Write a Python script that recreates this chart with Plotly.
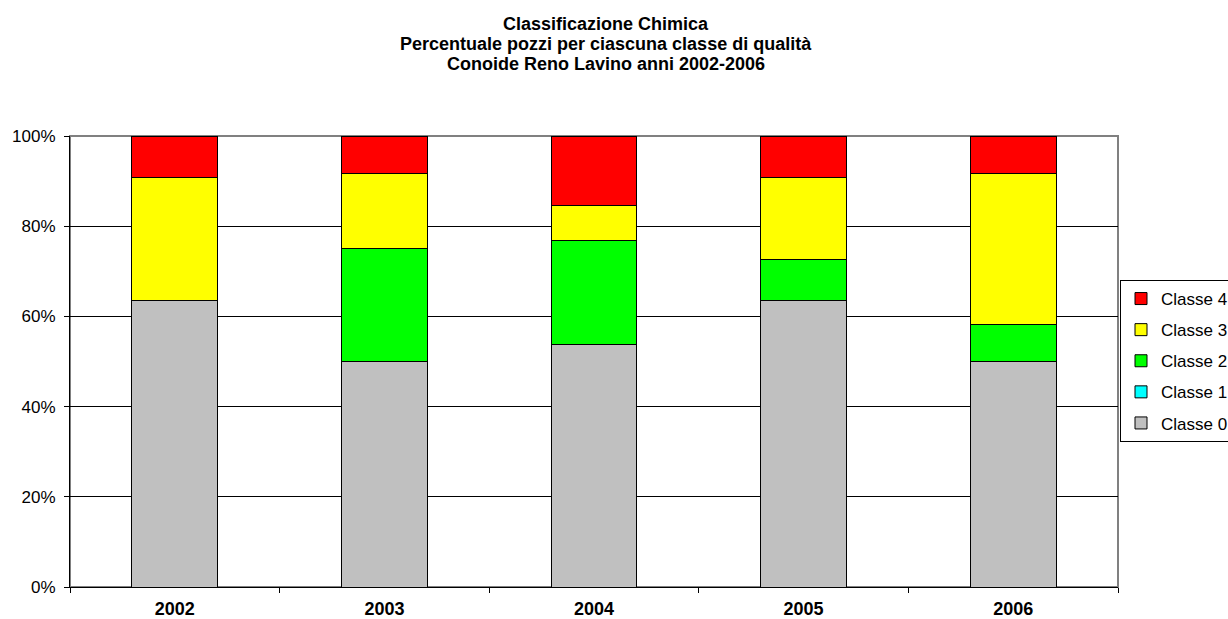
import plotly.graph_objects as go

years = ["2002", "2003", "2004", "2005", "2006"]

# Percentage of wells per quality class, for each year
classe_0 = [63.6, 50.0, 53.8, 63.6, 50.0]
classe_1 = [0.0, 0.0, 0.0, 0.0, 0.0]
classe_2 = [0.0, 25.0, 23.1, 9.1, 8.3]
classe_3 = [27.3, 16.7, 7.7, 18.2, 33.3]
classe_4 = [9.1, 8.3, 15.4, 9.1, 8.4]

series = [
    ("Classe 0", classe_0, "#C0C0C0"),
    ("Classe 1", classe_1, "#00FFFF"),
    ("Classe 2", classe_2, "#00FF00"),
    ("Classe 3", classe_3, "#FFFF00"),
    ("Classe 4", classe_4, "#FF0000"),
]

y_ticks = [0, 20, 40, 60, 80, 100]
y_tick_text = ["%d%%" % v for v in y_ticks]

title_lines = [
    "Classificazione Chimica",
    "Percentuale pozzi per ciascuna classe di qualità",
    "Conoide Reno Lavino anni 2002-2006",
]

FONT = "Arial, Liberation Sans, sans-serif"

fig = go.Figure()
for i, (name, vals, color) in enumerate(series):
    fig.add_trace(go.Bar(
        x=years, y=vals, name=name, legendgroup=name,
        legendrank=len(series) - i,
        marker=dict(color=color, line=dict(color="black", width=1)),
    ))

W, H = 1228, 619
L, R, T, B = 70, 110, 136, 32
plot_w = W - L - R
plot_h = H - T - B

for i, line in enumerate(title_lines):
    ypix = 24 + 20 * i
    fig.add_annotation(
        text="<b>%s</b>" % line, xref="paper", yref="paper",
        x=(606 - L) / plot_w, y=(H - B - ypix) / plot_h,
        xanchor="center", yanchor="middle", showarrow=False,
        font=dict(family=FONT, size=18, color="black"),
    )

# grey frame around the plotting area
fig.add_shape(type="rect", xref="paper", yref="paper", x0=0, x1=1, y0=0, y1=1,
              line=dict(color="#808080", width=2), layer="below")

fig.update_layout(
    width=W, height=H,
    margin=dict(l=L, r=R, t=T, b=B, autoexpand=False),
    barmode="stack", bargap=0.59,
    plot_bgcolor="white", paper_bgcolor="white",
    font=dict(family=FONT, size=17, color="black"),
    legend=dict(
        x=(1120 - L) / plot_w, y=(H - B - 280) / plot_h,
        xanchor="left", yanchor="top",
        traceorder="grouped", tracegroupgap=6,
        bordercolor="black", borderwidth=1, bgcolor="white",
        font=dict(family=FONT, size=17),
    ),
    xaxis=dict(
        showline=True, linecolor="black", linewidth=1,
        ticks="outside", tickson="boundaries", ticklen=5, tickcolor="black",
        ticklabelstandoff=5,
        tickfont=dict(family=FONT, size=18, weight="bold"),
    ),
    yaxis=dict(
        range=[0, 100], tickmode="array", tickvals=y_ticks, ticktext=y_tick_text,
        showline=True, linecolor="black", linewidth=1,
        ticks="outside", ticklen=5, tickcolor="black",
        ticklabelstandoff=5,
        showgrid=True, gridcolor="black", gridwidth=1,
        zeroline=False,
        tickfont=dict(family=FONT, size=17),
    ),
)

fig.write_html("out.html")
